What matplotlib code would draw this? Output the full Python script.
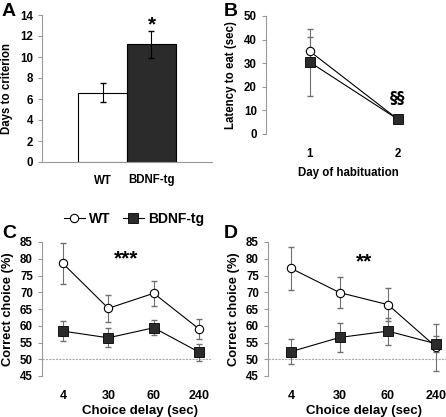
import numpy as np
import matplotlib.pyplot as plt

plt.rcParams["font.family"] = ["Liberation Sans", "DejaVu Sans"]
plt.rcParams["font.weight"] = "bold"
plt.rcParams["axes.labelweight"] = "bold"

# Panel A: days to criterion
groups = ["WT", "BDNF-tg"]
days_mean = [6.6, 11.2]
days_err = [0.9, 1.3]

# Panel B: latency to eat
hab_days = [1, 2]
lat_wt = [35.0, 6.2]
lat_wt_err = [6.2, 1.0]
lat_tg = [30.4, 6.2]
lat_tg_err = [14.2, 1.0]

# Panels C and D: correct choice vs delay
delays = ["4", "30", "60", "240"]
c_wt = [78.6, 65.2, 69.7, 59.0]
c_wt_err = [6.0, 4.0, 3.8, 3.0]
c_tg = [58.4, 56.4, 59.4, 52.1]
c_tg_err = [3.0, 2.8, 2.2, 2.6]
d_wt = [77.1, 69.9, 66.3, 53.6]
d_wt_err = [6.3, 4.6, 5.0, 7.0]
d_tg = [52.3, 56.5, 58.4, 54.6]
d_tg_err = [3.8, 4.3, 4.0, 2.3]

W, H = 446, 417
fig = plt.figure(figsize=(W / 100, H / 100), dpi=100)


def px_axes(left, top, right, bottom):
    return fig.add_axes([left / W, 1 - bottom / H, (right - left) / W, (bottom - top) / H])


spine_col = "#999999"
err_col = "#707070"
tg_col = "#2b2b2b"
tick_fs = 8.3
lab_fs = 8.3


def style(ax, bottom=True, xfs=tick_fs):
    for s in ["top", "right"]:
        ax.spines[s].set_visible(False)
    ax.spines["left"].set_color(spine_col)
    ax.spines["bottom"].set_color(spine_col)
    if not bottom:
        ax.spines["bottom"].set_visible(False)
    ax.tick_params(axis="y", colors=spine_col, labelcolor="black", labelsize=tick_fs, length=3, width=0.8)
    ax.tick_params(axis="x", length=0, labelsize=xfs)
    for t in ax.get_xticklabels() + ax.get_yticklabels():
        t.set_fontweight("bold")


# ---- A ----
axA = px_axes(42, 15, 212, 162)
xa = np.arange(len(groups))
axA.bar(xa, days_mean, width=1.0, color=["white", tg_col], edgecolor="black", linewidth=0.8)
axA.errorbar(xa, days_mean, yerr=days_err, fmt="none", ecolor="black", elinewidth=0.8, capsize=2)
axA.set_xlim(-1.235, 2.235)
axA.set_ylim(0, 14)
axA.set_yticks(range(0, 15, 2))
axA.set_xticks(xa)
axA.set_xticklabels(groups)
style(axA)
axA.tick_params(axis="x", pad=9)
axA.set_ylabel("Days to criterion", fontsize=lab_fs, labelpad=5)
axA.text(1, 13.1, "*", ha="center", va="center", fontsize=15, fontweight="bold")

# ---- B ----
axB = px_axes(266, 16, 430, 134)
axB.errorbar(hab_days, lat_tg, yerr=lat_tg_err, fmt="none", ecolor=err_col, elinewidth=0.8, capsize=2, zorder=1)
axB.errorbar(hab_days, lat_wt, yerr=lat_wt_err, fmt="none", ecolor=err_col, elinewidth=0.8, capsize=2, zorder=1)
axB.plot(hab_days, lat_wt, "-o", color="black", lw=0.8, mfc="white", mec="black", mew=0.8, ms=6, zorder=3)
axB.plot(hab_days, lat_tg, "-s", color="black", lw=0.8, mfc=tg_col, mec="black", mew=0.6, ms=6.5, zorder=4)
axB.set_xlim(0.5, 2.364)
axB.set_ylim(0, 50)
axB.set_yticks(range(0, 51, 10))
axB.set_xticks(hab_days)
style(axB, bottom=False)
axB.tick_params(axis="x", pad=10)
axB.set_ylabel("Latency to eat (sec)", fontsize=lab_fs, labelpad=5)
axB.set_xlabel("Day of habituation", fontsize=lab_fs, labelpad=5)
axB.text(2, 15, "§§", ha="center", va="center", fontsize=11, fontweight="bold",
         family=["DejaVu Sans"])


# ---- C and D ----
def delay_panel(ax, wt, wt_err, tg, tg_err, xmin, xmax, stars, star_x, star_y, label_x):
    x = np.arange(len(delays))
    ax.axhline(50, color="#aaaaaa", lw=0.8, ls=(0, (2, 1)), zorder=0)
    ax.errorbar(x, wt, yerr=wt_err, fmt="none", ecolor=err_col, elinewidth=0.8, capsize=2, zorder=1)
    ax.errorbar(x, tg, yerr=tg_err, fmt="none", ecolor=err_col, elinewidth=0.8, capsize=2, zorder=1)
    ax.plot(x, wt, "-o", color="black", lw=0.8, mfc="white", mec="black", mew=0.8, ms=6,
            zorder=3, label="WT")
    ax.plot(x, tg, "-s", color="black", lw=0.8, mfc=tg_col, mec="black", mew=0.6, ms=6.5,
            zorder=4, label="BDNF-tg")
    ax.set_xlim(xmin, xmax)
    ax.set_ylim(45, 85)
    ax.set_yticks(range(45, 86, 5))
    ax.set_xticks(x)
    ax.set_xticklabels(delays)
    style(ax, bottom=False, xfs=9)
    ax.tick_params(axis="x", pad=10)
    ax.set_ylabel("Correct choice (%)", fontsize=9.3, labelpad=4)
    ax.set_xlabel("Choice delay (sec)", fontsize=9.5)
    ax.xaxis.set_label_coords(label_x, -0.22)
    ax.text(star_x, star_y, stars, ha="center", va="center", fontsize=15, fontweight="bold")


axC = px_axes(42, 242, 211, 376)
delay_panel(axC, c_wt, c_wt_err, c_tg, c_tg_err, -0.46, 3.26, "***", 1.4, 80.0, 0.58)
axD = px_axes(268, 242, 446, 376)
delay_panel(axD, d_wt, d_wt_err, d_tg, d_tg_err, -0.48, 3.2, "**", 1.5, 79.0, 0.54)

axC.legend(loc="center", bbox_to_anchor=(0.545, 1.175), ncol=2, frameon=False,
           prop={"size": 10, "weight": "bold"}, handlelength=1.5, handletextpad=0.3,
           columnspacing=0.9, borderaxespad=0)

for lx, ly, s in [(2, 12, "A"), (224, 12, "B"), (2, 234, "C"), (224, 234, "D")]:
    fig.text(lx / W, 1 - ly / H, s, ha="left", va="center", fontsize=14, fontweight="bold")

fig.savefig("out.png", dpi=100)
